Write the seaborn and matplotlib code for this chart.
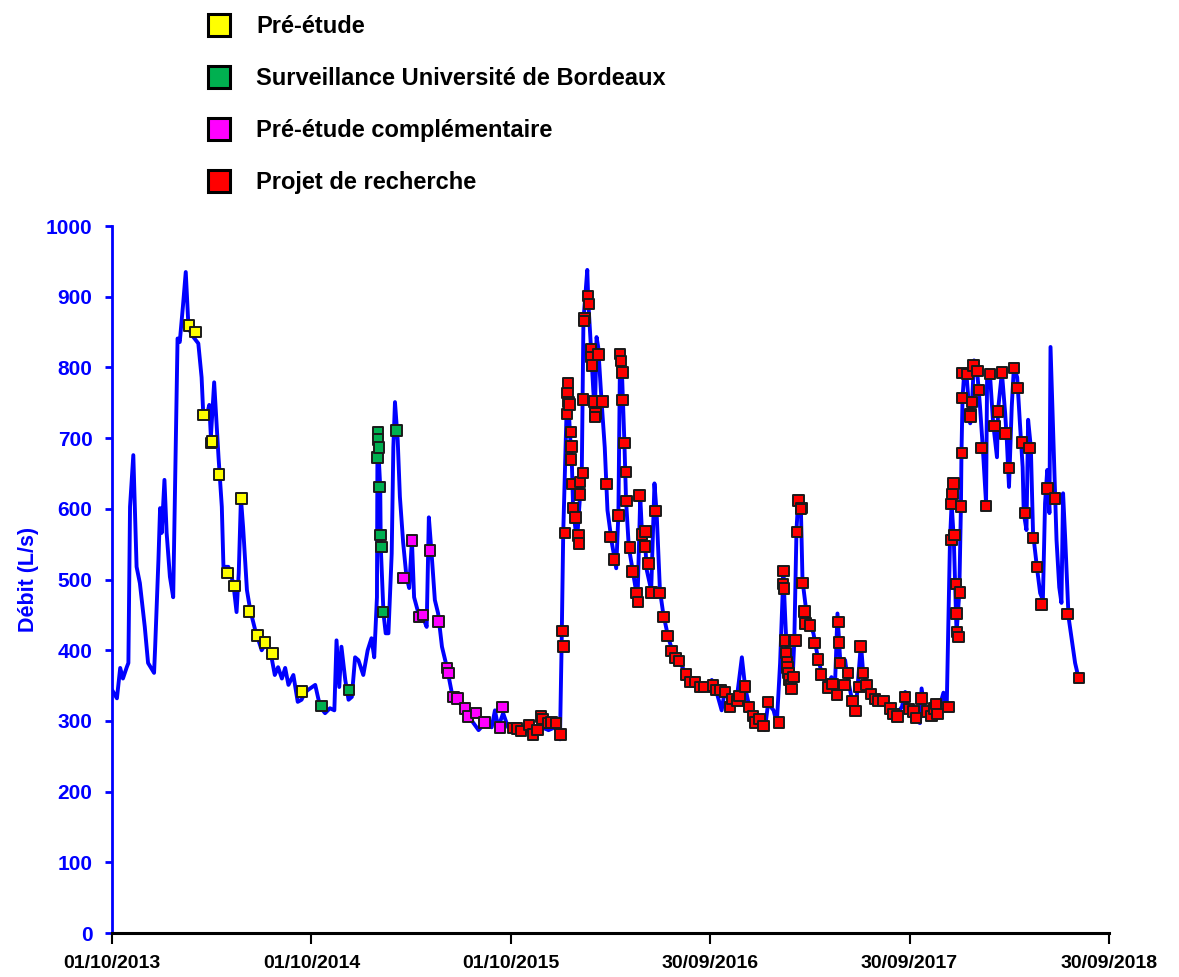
import pandas as pd
import seaborn as sns
import matplotlib.pyplot as plt
import matplotlib.dates as mdates
from matplotlib.lines import Line2D

# --- données (jours depuis le 01/10/2013, débit en L/s) ---
date_debut = "2013-10-01"

jours_debit = [
    0, 9, 15, 20, 27, 30, 33, 39, 45, 51, 60, 66, 77, 79, 85, 88, 91, 96, 100, 106,
    112, 118, 120, 124, 130, 135, 140, 146, 158, 164, 167, 173, 178, 181, 187, 195,
    201, 204, 213, 222, 228, 232, 236, 240, 247, 253, 262, 274, 283, 292, 298, 304,
    311, 317, 323, 332, 340, 347, 353, 359, 372, 381, 390, 399, 407, 411, 416, 420,
    427, 433, 439, 445, 451, 460, 468, 475, 480, 485, 486, 491, 492, 497, 501, 506,
    512, 515, 518, 523, 527, 533, 539, 544, 549, 553, 561, 570, 576, 580, 585, 591,
    597, 604, 613, 622, 634, 646, 658, 671, 683, 695, 701, 707, 716, 725, 738, 750,
    762, 774, 787, 799, 811, 820, 823, 826, 832, 834, 838, 842, 844, 851, 857, 860,
    863, 870, 872, 877, 881, 884, 887, 890, 896, 902, 907, 915, 923, 927, 930, 934,
    938, 941, 946, 954, 962, 967, 971, 974, 979, 987, 993, 997, 1003, 1009, 1018,
    1027, 1040, 1052, 1067, 1082, 1098, 1107, 1116, 1122, 1131, 1144, 1153, 1159,
    1168, 1177, 1186, 1195, 1201, 1211, 1217, 1223, 1229, 1232, 1238, 1245, 1249,
    1253, 1256, 1261, 1264, 1270, 1275, 1284, 1292, 1299, 1308, 1317, 1323, 1328,
    1333, 1342, 1345, 1351, 1357, 1363, 1371, 1375, 1384, 1397, 1409, 1421, 1433,
    1446, 1452, 1458, 1470, 1479, 1482, 1488, 1500, 1513, 1522, 1528, 1534, 1537,
    1541, 1546, 1551, 1554, 1555, 1557, 1560, 1565, 1571, 1574, 1578, 1584, 1589,
    1594, 1600, 1602, 1607, 1613, 1620, 1622, 1629, 1635, 1638, 1642, 1647, 1651,
    1657, 1662, 1667, 1669, 1674, 1677, 1682, 1686, 1693, 1699, 1704, 1708, 1712,
    1716, 1718, 1723, 1729, 1734, 1738, 1741, 1745, 1751, 1757, 1763, 1769,
]
debit = [
    344, 332, 375, 360, 376, 382, 603, 676, 518, 495, 433, 382, 368, 405, 528, 601, 566, 641, 566, 504,
    475, 744, 841, 836, 888, 935, 857, 846, 834, 786, 735, 730, 747, 702, 779, 673,
    603, 518, 518, 495, 454, 509, 615, 574, 485, 457, 429, 400, 412, 390, 365, 376,
    360, 375, 351, 365, 327, 330, 340, 344, 351, 320, 311, 318, 315, 414, 348, 405,
    358, 330, 334, 390, 386, 365, 400, 417, 390, 475, 707, 631, 546, 452, 424, 424,
    537, 687, 751, 697, 617, 552, 504, 488, 556, 475, 452, 445, 433, 588, 537, 471,
    452, 405, 376, 340, 330, 311, 301, 287, 297, 291, 315, 291, 311, 291, 287, 283,
    287, 277, 291, 287, 291, 274, 405, 566, 735, 778, 711, 659, 603, 552, 622, 655,
    867, 938, 891, 825, 768, 735, 843, 829, 754, 687, 598, 552, 516, 594, 820, 782,
    693, 612, 546, 509, 471, 617, 552, 574, 513, 485, 636, 594, 485, 452, 419,
    396, 382, 365, 354, 344, 358, 340, 315, 344, 325, 334, 390, 348,
    315, 301, 306, 287, 325, 315, 297, 382, 509, 452, 348, 344, 414,
    570, 612, 602, 499, 461, 443, 424, 390, 368, 348, 362, 340, 452,
    386, 386, 368, 344, 320, 330, 410, 368, 348, 332, 330, 315, 306,
    320, 341, 315, 301, 297, 346, 315, 311, 315, 340, 320, 556, 608,
    556, 424, 481, 603, 679, 758, 792, 782, 721, 744, 810, 792, 744,
    687, 608, 796, 792, 721, 673, 740, 793, 735, 697, 631, 744, 801,
    786, 721, 659, 594, 570, 726, 687, 566, 518, 481, 471, 608, 655,
    594, 829, 707, 556, 489, 467, 622, 556, 447, 414, 382, 362,
]

jours_pre_etude = [141, 153, 168, 181, 183, 196, 211, 224, 237, 251, 266, 280, 294, 348]
debit_pre_etude = [859, 850, 733, 693, 695, 649, 509, 491, 615, 455, 421, 411, 395, 342]

jours_surveillance = [384, 434, 486, 487, 487, 489, 490, 492, 493, 496, 521]
debit_surveillance = [321, 344, 673, 708, 698, 687, 631, 563, 546, 454, 711]

jours_complementaire = [534, 549, 562, 569, 582, 598, 613, 616, 625, 632, 646, 652, 666, 682, 710, 715]
debit_complementaire = [502, 555, 447, 450, 541, 441, 375, 368, 334, 332, 318, 306, 311, 298, 291, 320]

jours_recherche = [
    735, 741, 749, 763, 771, 779, 785, 788, 798, 805, 813, 821, 826, 825, 829, 833,
    835, 834, 836, 837, 840, 841, 840, 843, 844, 848, 854, 855, 857, 857, 862, 862,
    865, 864, 871, 873, 877, 877, 879, 882, 885, 884, 891, 898, 905, 912, 919, 927,
    930, 932, 934, 935, 938, 941, 942, 948, 953, 960, 963, 966, 970, 977, 976, 982,
    988, 995, 1002, 1010, 1017, 1024, 1032, 1038, 1051, 1058, 1067, 1076, 1085, 1100,
    1107, 1114, 1122, 1131, 1135, 1145, 1149, 1159, 1166, 1173, 1177, 1185, 1193,
    1201, 1221, 1229, 1228, 1230, 1232, 1234, 1236, 1237, 1238, 1240, 1243, 1244,
    1248, 1249, 1251, 1254, 1257, 1262, 1261, 1264, 1268, 1270, 1278, 1286, 1292,
    1298, 1312, 1319, 1327, 1330, 1331, 1333, 1341, 1347, 1356, 1361, 1370, 1368,
    1375, 1381, 1389, 1397, 1403, 1412, 1425, 1431, 1438, 1452, 1459, 1467, 1472,
    1482, 1493, 1500, 1505, 1508, 1511, 1531, 1536, 1537, 1539, 1540, 1542, 1545,
    1546, 1547, 1550, 1552, 1554, 1556, 1556, 1557, 1566, 1571, 1572, 1574, 1577,
    1584, 1587, 1592, 1600, 1607, 1615, 1622, 1629, 1636, 1642, 1651, 1658, 1666,
    1671, 1680, 1686, 1693, 1702, 1713, 1726, 1749, 1770,
]
debit_recherche = [
    290, 289, 286, 294, 281, 287, 306, 303, 297, 298, 297, 281, 405, 427, 566, 734,
    778, 764, 751, 748, 709, 688, 670, 635, 601, 588, 562, 551, 620, 638, 651, 755,
    870, 866, 901, 890, 826, 815, 803, 752, 735, 730, 818, 752, 635, 560, 528, 591,
    819, 809, 793, 754, 693, 652, 611, 545, 511, 481, 468, 619, 564, 568, 547, 523,
    482, 597, 481, 447, 420, 399, 389, 385, 366, 355, 355, 348, 348, 350,
    344, 344, 341, 320, 331, 328, 335, 349, 320, 307, 298, 303, 293,
    327, 298, 512, 494, 487, 414, 396, 383, 376, 368, 359, 351, 345,
    362, 413, 414, 567, 612, 601, 600, 495, 455, 438, 435, 410, 387,
    366, 347, 352, 337, 440, 411, 382, 351, 368, 328, 314, 405, 348,
    368, 351, 338, 331, 328, 328, 318, 310, 306, 334, 317, 313, 304,
    332, 313, 307, 318, 324, 310, 320, 607, 556, 621, 636, 563, 494,
    452, 426, 419, 482, 603, 679, 757, 792, 791, 734, 731, 751, 803,
    795, 768, 686, 604, 791, 717, 738, 793, 707, 658, 799, 771, 694,
    594, 686, 559, 518, 465, 629, 615, 451, 361,
]

categories = ["Pré-étude", "Surveillance Université de Bordeaux",
              "Pré-étude complémentaire", "Projet de recherche"]
couleurs = ["#FFFF00", "#00B050", "#FF00FF", "#FF0000"]
dates_ticks = ["2013-10-01", "2014-10-01", "2015-10-01", "2016-09-30", "2017-09-30", "2018-09-30"]

# --- construction des tables ---
t0 = pd.Timestamp(date_debut)
df_debit = pd.DataFrame({"date": t0 + pd.to_timedelta(jours_debit, unit="D"), "debit": debit})

blocs = [
    (jours_pre_etude, debit_pre_etude),
    (jours_surveillance, debit_surveillance),
    (jours_complementaire, debit_complementaire),
    (jours_recherche, debit_recherche),
]
frames = []
for cat, (j, d) in zip(categories, blocs):
    frames.append(pd.DataFrame({"date": t0 + pd.to_timedelta(j, unit="D"), "debit": d, "campagne": cat}))
df_pts = pd.concat(frames, ignore_index=True)

# --- figure ---
sns.set_theme(style="white")
plt.rcParams["font.family"] = ["Liberation Sans", "DejaVu Sans"]
plt.rcParams["font.weight"] = "bold"
plt.rcParams["text.color"] = "black"

fig = plt.figure(figsize=(11.79, 9.77), dpi=100)
ax = fig.add_axes([0.095, 0.045, 0.8456, 0.7236])

bleu = "#0000FF"
sns.lineplot(data=df_debit, x="date", y="debit", ax=ax, color=bleu, linewidth=2.8,
             sort=False, estimator=None, zorder=2)
sns.scatterplot(data=df_pts, x="date", y="debit", hue="campagne", hue_order=categories,
                palette=dict(zip(categories, couleurs)), marker="s", s=58,
                edgecolor="#1a1a1a", linewidth=1.4, legend=False, ax=ax, zorder=3)

ax.set_xlim(pd.Timestamp(dates_ticks[0]), pd.Timestamp(dates_ticks[-1]))
ax.set_ylim(0, 1000)
ax.set_yticks(range(0, 1001, 100))
ax.set_xticks([pd.Timestamp(d) for d in dates_ticks])
ax.xaxis.set_major_formatter(mdates.DateFormatter("%d/%m/%Y"))

ax.set_xlabel("")
ax.set_ylabel("Débit (L/s)", color=bleu, fontsize=15.5, fontweight="bold", labelpad=5)

for s in ["top", "right"]:
    ax.spines[s].set_visible(False)
ax.spines["left"].set_color(bleu)
ax.spines["left"].set_linewidth(2)
ax.spines["bottom"].set_color("black")
ax.spines["bottom"].set_linewidth(2.2)

ax.tick_params(axis="y", colors=bleu, direction="out", length=5, width=2, labelsize=15, pad=9)
ax.tick_params(axis="x", colors="black", direction="out", length=8, width=1.5, labelsize=14, pad=8)
ax.tick_params(left=True, bottom=True)
for lab in ax.get_xticklabels() + ax.get_yticklabels():
    lab.set_fontweight("bold")
ax.grid(False)

poignees = [Line2D([], [], linestyle="none", marker="s", markersize=16, markerfacecolor=c,
                   markeredgecolor="black", markeredgewidth=2.2) for c in couleurs]
fig.legend(poignees, categories, loc="upper left", bbox_to_anchor=(0.172, 0.989),
           frameon=False, fontsize=17, labelcolor="black", handlelength=1.0, handletextpad=1.05,
           labelspacing=1.22, borderpad=0.2, borderaxespad=0.0)

fig.savefig("out.png", dpi=100)
